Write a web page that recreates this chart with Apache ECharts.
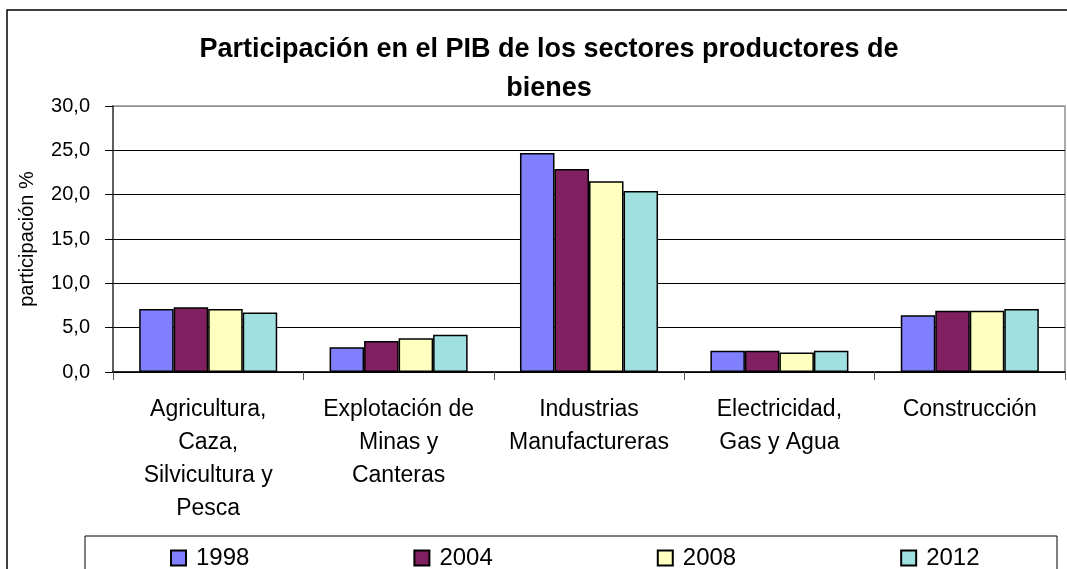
<!DOCTYPE html>
<html>
<head>
<meta charset="utf-8">
<script src="https://cdn.jsdelivr.net/npm/echarts@6/dist/echarts.min.js"></script>
<style>
  html, body { margin: 0; padding: 0; background: #fff; }
  #chart { width: 1067px; height: 569px; }
</style>
</head>
<body>
<div id="chart"></div>
<script>
const categories = [
  'Agricultura,\nCaza,\nSilvicultura y\nPesca',
  'Explotación de\nMinas y\nCanteras',
  'Industrias\nManufactureras',
  'Electricidad,\nGas y Agua',
  'Construcción'
];
const years = ['1998', '2004', '2008', '2012'];
const v1998 = [7.1, 2.8, 24.7, 2.4, 6.4];
const v2004 = [7.3, 3.5, 22.9, 2.4, 6.9];
const v2008 = [7.1, 3.8, 21.5, 2.2, 6.9];
const v2012 = [6.7, 4.2, 20.4, 2.4, 7.1];
const colors = ['#8080ff', '#802060', '#ffffc0', '#a0e0e0'];

const font = '"Liberation Sans", Arial, sans-serif';
const chart = echarts.init(document.getElementById('chart'));

const seriesData = [v1998, v2004, v2008, v2012];
const series = years.map((y, i) => ({
  name: y,
  type: 'bar',
  data: seriesData[i],
  barGap: '0%',
  barCategoryGap: '27.5%',
  itemStyle: { color: colors[i], borderColor: '#000', borderWidth: 1.5 }
}));

chart.setOption({
  animation: false,
  backgroundColor: '#fff',
  title: {
    text: 'Participación en el PIB de los sectores productores de\nbienes',
    left: 544,
    top: 25,
    textAlign: 'center',
    textStyle: { fontFamily: font, fontSize: 27, fontWeight: 'bold', color: '#000', lineHeight: 39 }
  },
  graphic: [
    { type: 'rect', shape: { x: 7, y: 10, width: 1100, height: 620 }, style: { fill: 'none', stroke: '#000', lineWidth: 1.5 }, z: 0 },
    { type: 'rect', shape: { x: 85, y: 536, width: 972, height: 60 }, style: { fill: 'none', stroke: '#000', lineWidth: 1 }, z: 0 }
  ],
  legend: {
    data: years,
    left: 170,
    top: 546,
    padding: 0,
    itemGap: 164,
    itemWidth: 15,
    itemHeight: 15,
    icon: 'rect',
    textStyle: { fontFamily: font, fontSize: 24, color: '#000', padding: [0, 0, 0, 5] }
  },
  grid: { left: 113, right: 2, top: 106, bottom: 197, show: true, borderColor: '#909090', borderWidth: 1.5, backgroundColor: 'transparent' },
  xAxis: {
    type: 'category',
    data: categories,
    axisLine: { lineStyle: { color: '#000', width: 1.5 } },
    axisTick: { show: true, length: 8, lineStyle: { color: '#555' } },
    axisLabel: { interval: 0, margin: 21, fontFamily: font, fontSize: 23, color: '#000', lineHeight: 33 }
  },
  yAxis: {
    type: 'value',
    min: 0,
    max: 30,
    interval: 5,
    name: 'participación %',
    nameLocation: 'middle',
    nameGap: 76,
    nameTextStyle: { fontFamily: font, fontSize: 20, color: '#000' },
    axisLine: { show: true, lineStyle: { color: '#444', width: 1.5 } },
    axisTick: { show: true, length: 8, lineStyle: { color: '#000' } },
    axisLabel: {
      margin: 23,
      fontFamily: font,
      fontSize: 20,
      color: '#000',
      formatter: v => v.toFixed(1).replace('.', ',')
    },
    splitLine: { lineStyle: { color: ['#000', '#000', '#000', '#000', '#000', '#000', '#909090'], width: 1 } }
  },
  series: series
});
</script>
</body>
</html>
